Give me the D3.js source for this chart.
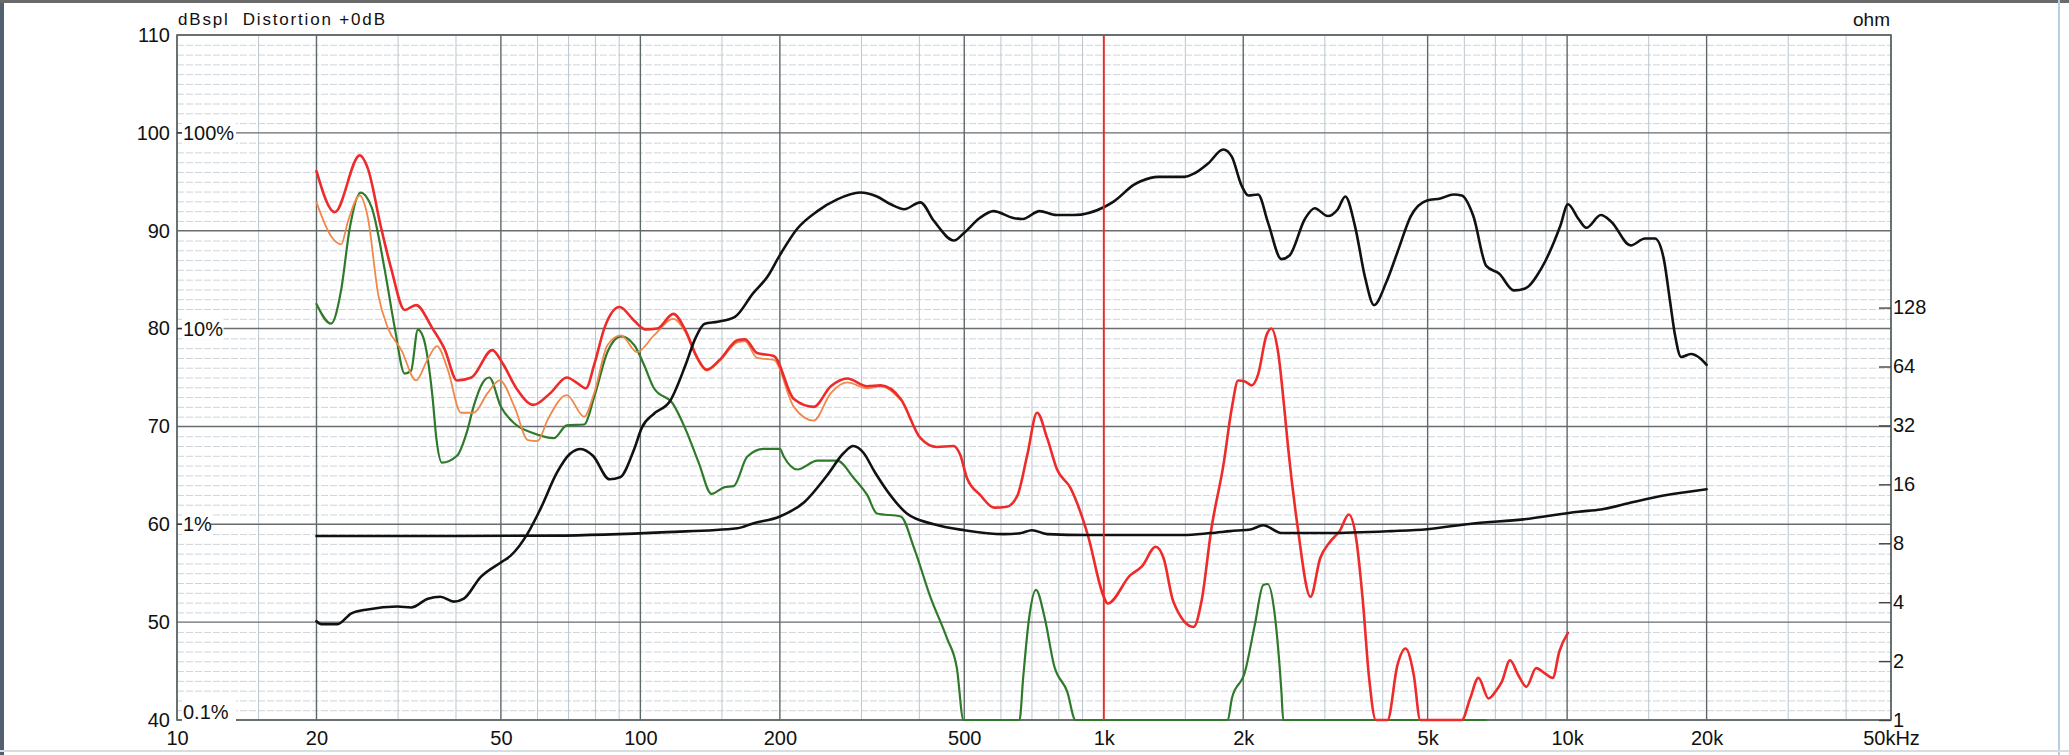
<!DOCTYPE html>
<html>
<head>
<meta charset="utf-8">
<script src="https://cdn.jsdelivr.net/npm/d3@7"></script>
<style>
    html, body { margin: 0; padding: 0; background: #fff; }
    svg { display: block; font-family: "Liberation Sans", Arial, sans-serif; }
</style>
</head>
<body>
<div id="graphic"></div>
<script>
// SPL response (dB)
const splFreq = [20, 20.5, 22.2, 23.8, 25.8, 29.9, 32, 34.8, 37, 39.6, 41.6, 45.2, 50, 52.5, 57, 60.9, 66.1, 70.5, 74.4, 79, 85.8, 90.4, 97, 100.8, 107, 115.9, 125.2, 131.4, 137.7, 146.8, 160, 175, 188, 200, 218, 241, 266, 298, 324, 347, 371, 402, 430, 475, 500, 540, 578, 638, 669, 727, 790, 863, 1000, 1052, 1163, 1209, 1310, 1494, 1574, 1682, 1811, 1888, 1984, 2051, 2153, 2263, 2418, 2520, 2717, 2852, 3044, 3200, 3321, 3484, 3669, 3830, 4069, 4303, 4600, 4986, 5326, 5690, 5922, 6275, 6692, 7140, 7675, 8120, 8786, 9670, 10040, 10583, 11000, 11829, 12466, 13707, 14733, 15474, 16136, 16666, 17071, 17620, 18495, 19445, 20000];
const splDb = [50.1, 49.8, 49.8, 50.9, 51.3, 51.6, 51.5, 52.4, 52.6, 52.1, 52.4, 54.6, 56.1, 56.8, 59.0, 61.6, 65.3, 67.2, 67.7, 67.0, 64.6, 64.8, 67.7, 69.9, 71.3, 72.6, 76.3, 79.0, 80.5, 80.7, 81.2, 83.6, 85.3, 87.5, 90.2, 92.0, 93.2, 93.9, 93.5, 92.7, 92.2, 92.9, 91.0, 89.0, 89.8, 91.3, 92.0, 91.3, 91.2, 92.0, 91.6, 91.6, 92.4, 93.0, 94.7, 95.1, 95.5, 95.5, 95.9, 96.9, 98.3, 97.6, 94.6, 93.6, 93.7, 90.8, 87.1, 87.5, 91.2, 92.3, 91.5, 92.2, 93.5, 90.5, 85.1, 82.4, 84.7, 87.8, 91.5, 93.1, 93.3, 93.7, 93.6, 91.5, 86.4, 85.6, 83.9, 84.1, 86.1, 90.5, 92.7, 91.2, 90.3, 91.6, 90.9, 88.5, 89.2, 89.2, 87.3, 82.9, 79.5, 77.1, 77.4, 76.9, 76.3];

// impedance (ohm)
const impFreq = [20, 40, 65, 114, 162, 175, 200, 226, 253, 275, 288, 303, 320, 341, 376, 430, 500, 609, 660, 700, 755, 924, 1300, 1484, 1700, 1876, 2084, 2209, 2418, 3044, 4170, 4986, 6275, 8050, 10583, 11829, 13900, 16400, 20000];
const impOhm = [8.71, 8.71, 8.75, 9.12, 9.55, 10.1, 10.96, 13.0, 17.8, 23.2, 25.1, 23.2, 18.6, 14.8, 11.35, 10.0, 9.33, 8.91, 9.0, 9.33, 8.91, 8.81, 8.81, 8.81, 9.02, 9.23, 9.44, 9.89, 9.02, 9.02, 9.23, 9.44, 10.1, 10.6, 11.6, 11.9, 13.0, 14.1, 15.1];

// total harmonic distortion (red)
const thdFreq = [20, 21.9, 24.8, 25.8, 27.6, 29, 31, 32.8, 35.6, 37.8, 40.2, 43.2, 47.9, 50.5, 54, 58.8, 63.9, 69.4, 73.2, 76.3, 79.6, 83.7, 90.2, 97, 102.7, 108.8, 117.8, 125.2, 132.4, 139, 148.3, 162, 168.2, 178.6, 194.1, 214.4, 236.6, 257.6, 279.5, 308.6, 330, 364.7, 402.3, 436.3, 474, 490, 507, 541, 580, 618, 652, 684, 718, 755, 793, 848, 924, 1000, 1020, 1141, 1209, 1295, 1347, 1413, 1563, 1625, 1708, 1813, 1890, 1950, 2017, 2084, 2153, 2244, 2300, 2378, 2457, 2500, 2618, 2794, 2930, 3077, 3228, 3380, 3504, 3620, 3738, 3865, 4097, 4303, 4480, 4667, 4820, 5926, 6175, 6436, 6766, 7050, 7228, 7530, 7843, 8170, 8575, 8935, 9310, 9620, 10040];
const thdDb = [96.1, 91.9, 97.7, 96.4, 90.2, 86.1, 81.9, 82.4, 80.0, 77.9, 74.7, 75.0, 77.8, 76.4, 73.9, 72.2, 73.4, 75.0, 74.4, 73.9, 76.4, 80.1, 82.2, 80.8, 79.9, 80.0, 81.5, 79.8, 77.1, 75.8, 76.8, 78.8, 78.9, 77.5, 77.2, 72.8, 72.0, 74.1, 74.9, 74.1, 74.2, 72.8, 68.8, 67.9, 68.0, 67.1, 64.7, 63.0, 61.7, 61.8, 63.0, 67.1, 71.4, 68.8, 65.6, 63.7, 58.9, 52.6, 51.9, 54.8, 55.7, 57.7, 56.5, 52.1, 49.5, 52.1, 59.6, 66.1, 71.9, 74.7, 74.6, 74.2, 75.3, 79.3, 80.0, 77.6, 71.5, 67.8, 59.9, 52.6, 56.5, 58.2, 59.3, 61.0, 58.6, 52.4, 44.3, 40, 40, 45.6, 47.3, 44.6, 40, 40, 42.2, 44.3, 42.2, 43.1, 43.9, 46.1, 44.6, 43.4, 45.3, 44.8, 44.3, 47.0, 48.9];

// 2nd harmonic (orange)
const h2Freq = [20, 21.6, 22.6, 23.4, 24.8, 25.8, 27.2, 28.5, 30.5, 32.8, 34.7, 36.4, 38.4, 41, 43.7, 46.8, 49.7, 53.5, 57.2, 60, 63.1, 69.4, 75.6, 79.6, 84.9, 90.8, 98.4, 107, 117.8, 125.2, 132.4, 139, 148.3, 162, 168.2, 178.6, 194.1, 214.4, 236.6, 257.6, 279.5, 308.6, 330, 364.7];
const h2Db = [92.9, 89.3, 88.6, 91.0, 93.6, 91.4, 83.4, 80.1, 77.8, 74.7, 76.8, 78.2, 75.8, 71.4, 71.4, 73.4, 74.7, 72.0, 68.6, 68.5, 70.7, 73.2, 71.0, 73.5, 78.3, 79.3, 77.6, 79.3, 81.0, 79.6, 77.0, 75.7, 76.7, 78.6, 78.7, 77.0, 76.8, 72.0, 70.6, 73.4, 74.5, 73.9, 74.1, 72.7];

// 3rd harmonic (green)
const h3Freq = [20, 21.5, 22.6, 23.6, 24.9, 26.3, 28.1, 29.5, 31, 32, 33.1, 34, 35.6, 36.3, 37.3, 40.2, 42.2, 43.7, 45.6, 47.2, 50, 53.5, 58.8, 65, 69.4, 75.6, 79.6, 84.9, 90.8, 97, 101.8, 107, 117.6, 125.2, 133.6, 142.4, 152, 159, 170, 184.4, 200, 204, 218, 241, 266, 289, 308.6, 324, 364.7, 389.5, 423, 458.5, 482, 498, 658, 670, 690, 714, 746, 781, 834, 869, 1852, 1890, 2017, 2118, 2209, 2258, 2340, 2418, 2440, 6681];
const h3Db = [82.5, 80.5, 83.9, 90.3, 93.9, 92.4, 85.9, 80.1, 75.4, 75.7, 79.9, 79.1, 73.0, 68.7, 66.3, 67.0, 69.4, 72.1, 74.4, 75.0, 72.0, 70.3, 69.3, 68.8, 70.1, 70.2, 73.1, 77.6, 79.2, 78.3, 76.3, 73.9, 72.3, 69.7, 66.3, 63.1, 63.8, 63.9, 66.9, 67.7, 67.7, 66.9, 65.6, 66.5, 66.5, 64.7, 63.0, 61.1, 60.8, 57.6, 52.5, 48.4, 45.3, 40, 40, 44.3, 50.4, 53.3, 50.4, 45.6, 42.9, 40, 40, 42.2, 44.9, 49.7, 53.8, 53.9, 50.7, 42.9, 40, 40];

const freqTicks = [10, 20, 50, 100, 200, 500, 1000, 2000, 5000, 10000, 20000, 50000];
const freqTickLabels = ["10", "20", "50", "100", "200", "500", "1k", "2k", "5k", "10k", "20k", "50kHz"];
const dbTicks = [40, 50, 60, 70, 80, 90, 100, 110];
const ohmTicks = [1, 2, 4, 8, 16, 32, 64, 128];
const pctTicks = [0.1, 1, 10, 100];
const pctTickLabels = ["0.1%", "1%", "10%", "100%"];
const cursorFreq = 1000;

const width = 2069;
const height = 755;
const plot = { left: 177, right: 1891, top: 35, bottom: 720 };

const x = d3.scaleLog().domain([10, 50000]).range([plot.left, plot.right]);
const y = d3.scaleLinear().domain([40, 110]).range([plot.bottom, plot.top]);
// impedance axis: 6 dB per octave, 1 ohm at the bottom
const yOhm = d3.scaleLog().base(2).domain([1, Math.pow(10, 3.5)]).range([plot.bottom, plot.top]);
// distortion axis: 20 dB per decade, 0.1% at the bottom
const yPct = d3.scaleLog().domain([0.1, 100]).range([y(40), y(100)]);

const svg = d3.create("svg")
    .attr("width", width)
    .attr("height", height)
    .attr("viewBox", [0, 0, width, height]);

// window frame
svg.append("rect").attr("x", 0).attr("y", 0).attr("width", width).attr("height", height).attr("fill", "#fff");
svg.append("rect").attr("x", 0).attr("y", 0).attr("width", 4).attr("height", height).attr("fill", "#51606e");
svg.append("rect").attr("x", 0).attr("y", 0).attr("width", width).attr("height", 3).attr("fill", "#6a6a6a");
svg.append("rect").attr("x", 2058).attr("y", 0).attr("width", 2).attr("height", height).attr("fill", "#b9cde0");
svg.append("rect").attr("x", 0).attr("y", 750).attr("width", width).attr("height", 2).attr("fill", "#d8dde2");

// GRID
const grid = svg.append("g");

const minorFreqs = [];
[10, 100, 1000, 10000].forEach(dec => {
    [1.5, 3, 4, 6, 7, 8, 9].forEach(m => { if (dec * m < 50000) minorFreqs.push(dec * m); });
});

grid.append("g")
    .selectAll("line")
    .data(d3.range(41, 110).filter(d => d % 10 !== 0))
    .join("line")
    .attr("x1", plot.left).attr("x2", plot.right)
    .attr("y1", d => y(d) + 0.5).attr("y2", d => y(d) + 0.5)
    .attr("stroke", "#cdd5db")
    .attr("stroke-dasharray", "7,2")
    .attr("stroke-width", 1);

grid.append("g")
    .selectAll("line")
    .data(minorFreqs)
    .join("line")
    .attr("x1", d => x(d)).attr("x2", d => x(d))
    .attr("y1", plot.top).attr("y2", plot.bottom)
    .attr("stroke", "#bcc6cd")
    .attr("stroke-width", 1);

grid.append("g")
    .selectAll("line")
    .data(dbTicks)
    .join("line")
    .attr("x1", plot.left).attr("x2", plot.right)
    .attr("y1", d => y(d)).attr("y2", d => y(d))
    .attr("stroke", "#676d6f")
    .attr("stroke-width", 1.4);

grid.append("g")
    .selectAll("line")
    .data(freqTicks)
    .join("line")
    .attr("x1", d => x(d)).attr("x2", d => x(d))
    .attr("y1", plot.top).attr("y2", plot.bottom)
    .attr("stroke", "#5f6868")
    .attr("stroke-width", 1.4);

svg.append("rect")
    .attr("x", plot.left).attr("y", plot.top)
    .attr("width", plot.right - plot.left).attr("height", plot.bottom - plot.top)
    .attr("fill", "none")
    .attr("stroke", "#5f6868")
    .attr("stroke-width", 1.6);

// AXES
const axisLeft = svg.append("g")
    .attr("transform", `translate(${plot.left},0)`)
    .call(d3.axisLeft(y).tickValues(dbTicks).tickSize(0).tickPadding(7).tickFormat(d3.format("d")));

const axisBottom = svg.append("g")
    .attr("transform", `translate(0,${plot.bottom})`)
    .call(d3.axisBottom(x).tickValues(freqTicks).tickSize(0).tickPadding(11)
        .tickFormat((d, i) => freqTickLabels[i]));

const axisRight = svg.append("g")
    .attr("transform", `translate(${plot.right},0)`)
    .call(d3.axisRight(yOhm).tickValues(ohmTicks).tickSizeInner(-12).tickSizeOuter(0).tickPadding(3)
        .tickFormat(d3.format("d")));

[axisLeft, axisBottom, axisRight].forEach(a => {
    a.select(".domain").remove();
    a.selectAll("text").attr("font-size", 20).attr("fill", "#111")
        .attr("font-family", '"Liberation Sans", Arial, sans-serif');
    a.selectAll("line").attr("stroke", "#444").attr("stroke-width", 1.4);
});
axisRight.selectAll("text").attr("x", 2);

// distortion % labels inside the left edge
const pctG = svg.append("g");
pctG.selectAll("line")
    .data(pctTicks.filter(d => d > 0.1))
    .join("line")
    .attr("x1", plot.left).attr("x2", plot.left + 6)
    .attr("y1", d => yPct(d)).attr("y2", d => yPct(d))
    .attr("stroke", "#333").attr("stroke-width", 1.4);
pctG.selectAll("rect")
    .data(pctTicks)
    .join("rect")
    .attr("x", plot.left + 5)
    .attr("y", (d, i) => (d === 0.1 ? yPct(d) - 8 : yPct(d)) - 13)
    .attr("width", (d, i) => pctTickLabels[i].length * 12.5 + 4)
    .attr("height", 24)
    .attr("fill", "#fff");
pctG.selectAll("text")
    .data(pctTicks)
    .join("text")
    .attr("x", plot.left + 6)
    .attr("y", d => d === 0.1 ? yPct(d) - 8 : yPct(d))
    .attr("dy", "0.35em")
    .attr("font-size", 20)
    .attr("fill", "#111")
    .text((d, i) => pctTickLabels[i]);

// titles
svg.append("text")
    .attr("x", plot.left + 1)
    .attr("y", 25)
    .attr("font-size", 17)
    .attr("fill", "#111")
    .attr("textLength", 207)
    .attr("lengthAdjust", "spacing")
    .style("white-space", "pre")
    .text("dBspl  Distortion +0dB");

svg.append("text")
    .attr("x", plot.right - 1)
    .attr("y", 26)
    .attr("text-anchor", "end")
    .attr("font-size", 19)
    .attr("fill", "#111")
    .text("ohm");

// CURVES
const zip = (fs, vs) => fs.map((f, i) => [f, vs[i]]);
const lineDb = d3.line().x(d => x(d[0])).y(d => y(d[1])).curve(d3.curveMonotoneX);
const lineOhm = d3.line().x(d => x(d[0])).y(d => yOhm(d[1])).curve(d3.curveMonotoneX);

const curves = svg.append("g")
    .attr("fill", "none")
    .attr("stroke-linejoin", "round")
    .attr("stroke-linecap", "round");

curves.append("path")
    .attr("d", lineDb(zip(h3Freq, h3Db)))
    .attr("stroke", "#2f7a2a")
    .attr("stroke-width", 2.2);

curves.append("path")
    .attr("d", lineDb(zip(h2Freq, h2Db)))
    .attr("stroke", "#f2874a")
    .attr("stroke-width", 1.8);

curves.append("path")
    .attr("d", lineDb(zip(thdFreq, thdDb)))
    .attr("stroke", "#ee2a2a")
    .attr("stroke-width", 2.6);

curves.append("path")
    .attr("d", lineOhm(zip(impFreq, impOhm)))
    .attr("stroke", "#111")
    .attr("stroke-width", 2.6);

curves.append("path")
    .attr("d", lineDb(zip(splFreq, splDb)))
    .attr("stroke", "#111")
    .attr("stroke-width", 2.6);

// cursor at 1 kHz
svg.append("line")
    .attr("x1", x(cursorFreq)).attr("x2", x(cursorFreq))
    .attr("y1", plot.top).attr("y2", plot.bottom)
    .attr("stroke", "#ff2020")
    .attr("stroke-width", 1.8);

d3.select("#graphic").append(() => svg.node());
</script>
</body>
</html>
